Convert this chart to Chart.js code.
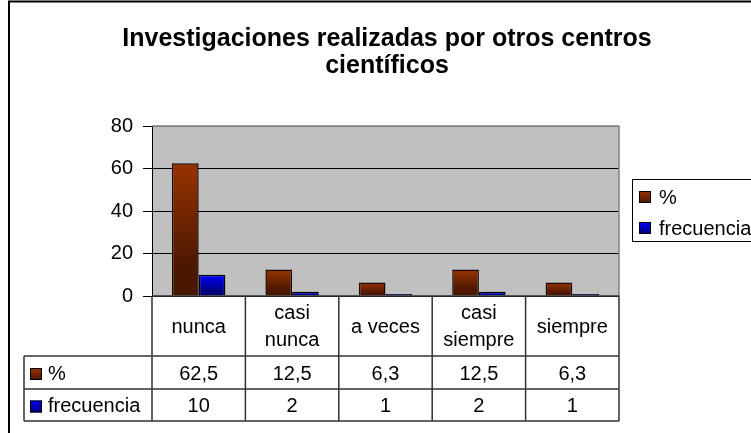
<!DOCTYPE html>
<html>
<head>
<meta charset="utf-8">
<script src="https://cdn.jsdelivr.net/npm/chart.js@4"></script>
<style>
html,body{margin:0;padding:0;background:#fff;}
canvas{display:block;}
</style>
</head>
<body>
<canvas id="c" width="751" height="433"></canvas>
<script>
// ---- data ----
const titleLines = ['Investigaciones realizadas por otros centros', 'científicos'];
const categories = ['nunca', ['casi', 'nunca'], 'a veces', ['casi', 'siempre'], 'siempre'];
const seriesNames = ['%', 'frecuencia'];
const pctValues = [62.5, 12.5, 6.3, 12.5, 6.3];
const freqValues = [10, 2, 1, 2, 1];
const yTickValues = [0, 20, 40, 60, 80];

const FONT = '"Liberation Sans", Arial, sans-serif';
const FS = 20;
const brown = ['#993300', '#4a1700'];
const blue = ['#0000ff', '#000078'];

function grad(ctx, cols) {
  const chart = ctx.chart;
  if (!chart.chartArea || ctx.type !== 'data') return cols[0];
  const ys = chart.scales.y;
  const y0 = ys.getPixelForValue(0);
  const y1 = ys.getPixelForValue(ctx.parsed.y);
  if (!isFinite(y0) || !isFinite(y1) || y0 === y1) return cols[0];
  const g = chart.ctx.createLinearGradient(0, y1, 0, y0);
  g.addColorStop(0, cols[0]);
  g.addColorStop(0.8, cols[1]);
  g.addColorStop(1, cols[1]);
  return g;
}
function fmt(v) { return String(v).replace('.', ','); }

const decor = {
  id: 'decor',
  beforeDraw(chart) {
    const {ctx, chartArea: a} = chart;
    ctx.save();
    ctx.fillStyle = '#c0c0c0';
    ctx.fillRect(a.left, a.top, a.right - a.left, a.bottom - a.top);
    ctx.restore();
  },
  afterDraw(chart) {
    const {ctx, chartArea: a} = chart;
    const xs = chart.scales.x;
    ctx.save();
    // plot right/top border
    ctx.strokeStyle = '#808080';
    ctx.lineWidth = 1.5;
    ctx.beginPath();
    ctx.moveTo(a.left, a.top); ctx.lineTo(a.right, a.top); ctx.lineTo(a.right, a.bottom);
    ctx.stroke();

    // data table
    const step = xs.getPixelForValue(1) - xs.getPixelForValue(0);
    const edges = [];
    for (let i = 0; i <= categories.length; i++) edges.push(xs.getPixelForValue(0) - step / 2 + i * step);
    const rTop = a.bottom, r1 = a.bottom + 60, r2 = r1 + 33, r3 = r2 + 32;
    const labelLeft = 24;
    ctx.strokeStyle = '#333';
    ctx.lineWidth = 1.5;
    ctx.beginPath();
    ctx.moveTo(edges[0], rTop); ctx.lineTo(edges[edges.length - 1], rTop);
    [r1, r2, r3].forEach(y => { ctx.moveTo(labelLeft, y); ctx.lineTo(edges[edges.length - 1], y); });
    ctx.moveTo(labelLeft, r1); ctx.lineTo(labelLeft, r3);
    edges.forEach(x => { ctx.moveTo(x, rTop); ctx.lineTo(x, r3); });
    ctx.stroke();

    ctx.fillStyle = '#000';
    ctx.font = FS + 'px ' + FONT;
    ctx.textAlign = 'center';
    ctx.textBaseline = 'middle';
    categories.forEach((c, i) => {
      const cx = xs.getPixelForValue(i);
      const lines = Array.isArray(c) ? c : [c];
      const lh = 27;
      const cy = (rTop + r1) / 2 + 1;
      lines.forEach((ln, k) => ctx.fillText(ln, cx, cy + (k - (lines.length - 1) / 2) * lh));
    });
    const rows = [[pctValues, brown, r1, r2], [freqValues, blue, r2, r3]];
    rows.forEach(([vals, cols, t, b], si) => {
      const cy = (t + b) / 2 + 1.5;
      vals.forEach((v, i) => ctx.fillText(fmt(v), xs.getPixelForValue(i), cy));
      // legend key in row header
      const g = ctx.createLinearGradient(0, cy - 6, 0, cy + 6);
      g.addColorStop(0, cols[0]); g.addColorStop(1, cols[1]);
      ctx.fillStyle = g;
      ctx.fillRect(30, cy - 6, 12, 12);
      ctx.strokeStyle = '#000'; ctx.lineWidth = 1;
      ctx.strokeRect(30.5, cy - 5.5, 11, 11);
      ctx.fillStyle = '#000';
      ctx.textAlign = 'left';
      ctx.fillText(seriesNames[si], 48, cy);
      ctx.textAlign = 'center';
    });

    // legend box
    const lx = 632, ly = 179, lh2 = 62;
    ctx.strokeStyle = '#000'; ctx.lineWidth = 1;
    ctx.strokeRect(lx + 0.5, ly + 0.5, 200, lh2);
    [[brown, 197], [blue, 228]].forEach(([cols, cy], si) => {
      const g = ctx.createLinearGradient(0, cy - 6, 0, cy + 6);
      g.addColorStop(0, cols[0]); g.addColorStop(1, cols[1]);
      ctx.fillStyle = g;
      ctx.fillRect(639, cy - 6, 12, 12);
      ctx.strokeRect(639.5, cy - 5.5, 11, 11);
      ctx.fillStyle = '#000';
      ctx.textAlign = 'left';
      ctx.fillText(seriesNames[si], 659, cy + 1);
    });

    // outer chart border
    ctx.strokeStyle = '#000'; ctx.lineWidth = 2;
    ctx.strokeRect(9, 1.5, 800, 500);
    ctx.restore();
  }
};

new Chart(document.getElementById('c'), {
  type: 'bar',
  data: {
    labels: categories,
    datasets: [
      { label: seriesNames[0], data: pctValues, backgroundColor: c => grad(c, brown), borderColor: '#1a0800', borderWidth: 1.5 },
      { label: seriesNames[1], data: freqValues, backgroundColor: c => grad(c, blue), borderColor: '#000', borderWidth: 1.5 }
    ]
  },
  options: {
    responsive: false,
    animation: false,
    devicePixelRatio: 1,
    layout: { padding: { left: 23, right: 0, top: 0, bottom: 137 } },
    datasets: { bar: { categoryPercentage: 2 / 3.5, barPercentage: 1 } },
    plugins: {
      legend: { display: false },
      tooltip: { enabled: false },
      title: {
        display: true,
        text: titleLines,
        color: '#000',
        font: { family: FONT, size: 25, weight: 'bold', lineHeight: 1.08 },
        padding: { top: 26, bottom: 46 }
      }
    },
    scales: {
      x: { display: false },
      y: {
        min: yTickValues[0],
        max: yTickValues[yTickValues.length - 1],
        afterBuildTicks: s => { s.ticks = yTickValues.map(v => ({ value: v })); },
        afterFit: s => { s.width = 129; },
        ticks: { color: '#000', font: { family: FONT, size: FS }, padding: 10 },
        grid: {
          color: c => (c.tick && c.tick.value === yTickValues[yTickValues.length - 1]) ? '#808080' : '#000',
          tickColor: '#000',
          tickLength: 9,
          lineWidth: 1
        },
        border: { color: '#000', width: 1 }
      },
      yR: {
        position: 'right',
        display: true,
        min: 0, max: 1,
        ticks: { display: false },
        grid: { display: false, drawTicks: false },
        border: { display: false },
        afterFit: s => { s.width = 132; }
      }
    }
  },
  plugins: [decor]
});
</script>
</body>
</html>
